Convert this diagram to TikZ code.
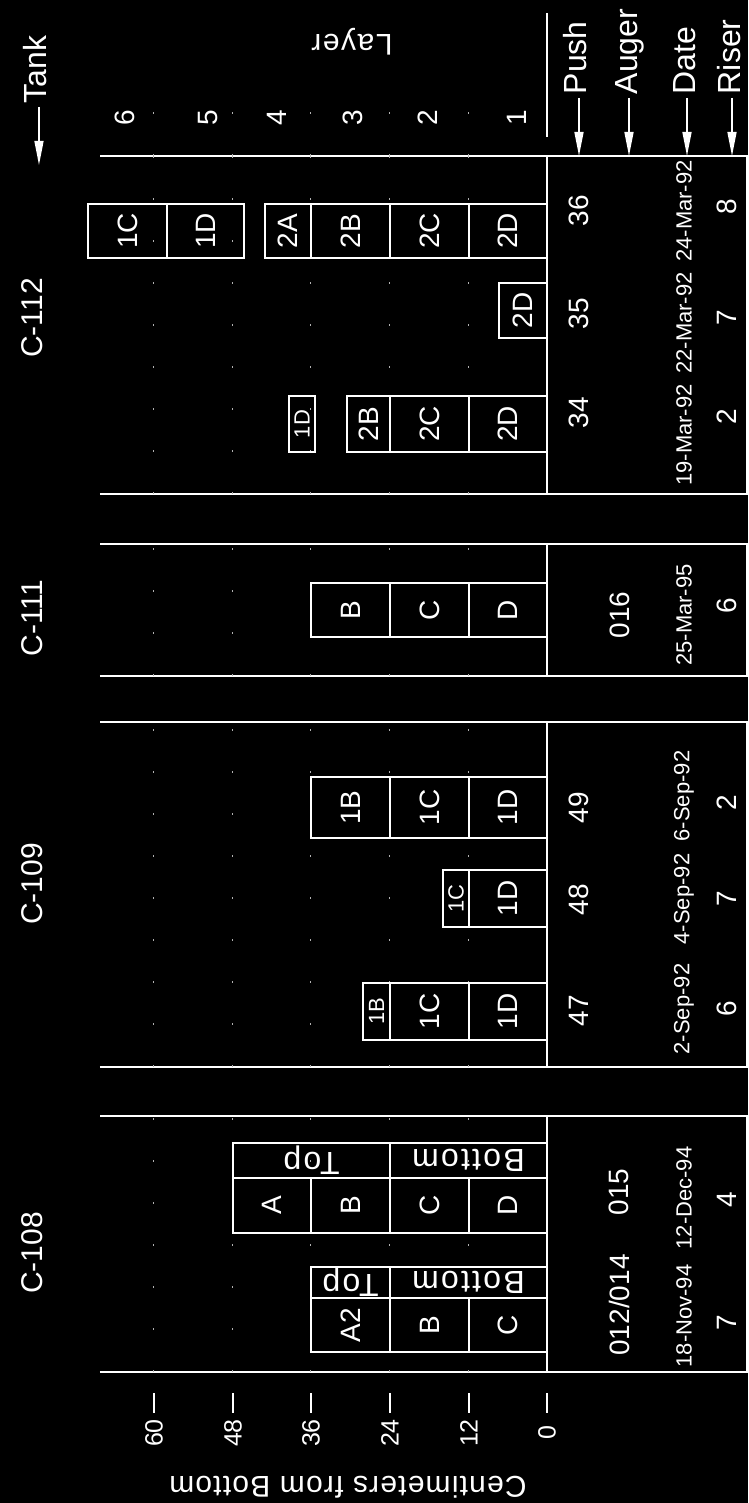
\documentclass[tikz,border=0pt]{standalone}
\usepackage{fontspec}
\setmainfont{Liberation Sans}
\usetikzlibrary{arrows.meta, positioning}

\newcommand{\fsz}[1]{\fontsize{#1}{#1}\selectfont}
% sample cell: name, x1, x2, y1, y2, text
\newcommand{\smpcell}[6]{%
  \node[smp, minimum width={#3-#2}, minimum height={#5-#4}] (#1) at ({(#2+#3)/2},{(#4+#5)/2}) {#6};}
\newcommand{\smpsmall}[6]{%
  \node[smp, font=\fsz{22}, minimum width={#3-#2}, minimum height={#5-#4}] (#1) at ({(#2+#3)/2},{(#4+#5)/2}) {#6};}
% rotated Top/Bottom cell (width and height swap)
\newcommand{\tagcell}[6]{%
  \node[tag, minimum width={#5-#4}, minimum height={#3-#2}] (#1) at ({(#2+#3)/2},{(#4+#5)/2}) {#6};}

\begin{document}
\begin{tikzpicture}[
  x=1pt, y=1pt, rotate=90, transform shape,
  white, line width=1.6pt,
  lbl/.style    = {inner sep=3pt, text=white},
  smp/.style    = {draw=white, line width=1.4pt, inner sep=0pt, font=\fsz{28}},
  tag/.style    = {smp, rotate=90, font=\fsz{32}\addfontfeatures{LetterSpace=7}},
  tick/.style   = {draw, line width=1.4pt},
  ax/.style     = {draw, -{Triangle[length=24pt, width=9pt]}, line width=1.4pt},
  gridln/.style = {line width=1pt, white!70!black, dash pattern=on 2pt off 40pt},
  num/.style    = {lbl, font=\fsz{28}},
  dat/.style    = {lbl, font=\fsz{22}},
]
\useasboundingbox (0,0) rectangle (1503,748);
\fill[black] (0,0) rectangle (1503,748);

% =============== panels: sides, baseline, bottom rule ===============
\foreach \l/\r in {131/387, 436/781, 827/959, 1009/1347} {
  \draw (\l,648) -- (\l,1) -- (\r,1) -- (\r,648);
  \draw (\l,201) -- (\r,201);
  \foreach \g in {279,358,437,515,594} \draw[gridln] (\l,\g) -- (\r,\g);
}
\foreach \g in {279,358,437,515,594} \draw[gridln] (1347,\g) -- (1405,\g);

% =============== depth axis ===============
\foreach \v/\yy in {0/201, 12/279, 24/358, 36/437, 48/515, 60/594} {
  \draw[tick] (90,\yy) -- (110,\yy);
  \node[lbl, font=\fsz{25}] (y\v) at (70,\yy) {\v};
}
\node[lbl, rotate=90, font=\fsz{30}\addfontfeatures{LetterSpace=4}] (yname) at (16,400)
  {Centimeters from Bottom};

% =============== tank titles ===============
\node[lbl, font=\fsz{30}] (t108) at (250,716) {C-108};
\node[lbl, font=\fsz{30}] (t109) at (619,716) {C-109};
\node[lbl, font=\fsz{30}] (t111) at (885,716) {C-111};
\node[lbl, font=\fsz{30}] (t112) at (1185,716) {C-112};

% =============== C-108 ===============
\smpcell{s108a2}{151}{205}{358}{437}{A2}
\smpcell{s108b1}{151}{205}{279}{358}{B}
\smpcell{s108c1}{151}{205}{201}{279}{C}
\tagcell{s108top1}{205}{236}{358}{437}{Top}
\tagcell{s108bot1}{205}{236}{201}{358}{Bottom}

\smpcell{s108a}{270}{325}{437}{515}{A}
\smpcell{s108b}{270}{325}{358}{437}{B}
\smpcell{s108c}{270}{325}{279}{358}{C}
\smpcell{s108d}{270}{325}{201}{279}{D}
\tagcell{s108top2}{325}{360}{358}{515}{Top}
\tagcell{s108bot2}{325}{360}{201}{358}{Bottom}

\node[num] (a108a) at (198,129) {012/014};
\node[num] (a108b) at (311,129) {015};
\node[dat] (d108a) at (187,64) {18-Nov-94};
\node[dat] (d108b) at (305,64) {12-Dec-94};
\node[num] (r108a) at (180,21) {7};
\node[num] (r108b) at (303,21) {4};

% =============== C-109 ===============
\smpcell{s47d}{463}{520}{201}{279}{1D}
\smpcell{s47c}{463}{520}{279}{358}{1C}
\smpsmall{s47b}{463}{520}{358}{385}{1B}
\smpcell{s48d}{576}{633}{201}{279}{1D}
\smpsmall{s48c}{576}{633}{279}{305}{1C}
\smpcell{s49d}{665}{726}{201}{279}{1D}
\smpcell{s49c}{665}{726}{279}{358}{1C}
\smpcell{s49b}{665}{726}{358}{437}{1B}

\node[num] (p47) at (492,169) {47};
\node[num] (p48) at (603,169) {48};
\node[num] (p49) at (695,169) {49};
\node[dat] (d47) at (494,64) {2-Sep-92};
\node[dat] (d48) at (604,64) {4-Sep-92};
\node[dat] (d49) at (707,64) {6-Sep-92};
\node[num] (r47) at (494,21) {6};
\node[num] (r48) at (604,21) {7};
\node[num] (r49) at (700,21) {2};

% =============== C-111 ===============
\smpcell{s111d}{866}{920}{201}{279}{D}
\smpcell{s111c}{866}{920}{279}{358}{C}
\smpcell{s111b}{866}{920}{358}{437}{B}

\node[num] (a111) at (888,128) {016};
\node[dat] (d111) at (888,64) {25-Mar-95};
\node[num] (r111) at (897,21) {6};

% =============== C-112 ===============
\smpcell{s34d}{1051}{1107}{201}{279}{2D}
\smpcell{s34c}{1051}{1107}{279}{358}{2C}
\smpcell{s34b}{1051}{1107}{358}{401}{2B}
\smpsmall{s34x}{1051}{1107}{433}{459}{1D}
\smpcell{s35d}{1165}{1220}{201}{249}{2D}
\smpcell{s36d}{1245}{1299}{201}{279}{2D}
\smpcell{s36c}{1245}{1299}{279}{358}{2C}
\smpcell{s36b}{1245}{1299}{358}{437}{2B}
\smpcell{s36a}{1245}{1299}{437}{483}{2A}
\smpcell{s36y}{1245}{1299}{504}{581}{1D}
\smpcell{s36x}{1245}{1299}{581}{660}{1C}

\node[num] (p34) at (1090,169) {34};
\node[num] (p35) at (1189,169) {35};
\node[num] (p36) at (1292,169) {36};
\node[dat] (d34) at (1068,64) {19-Mar-92};
\node[dat] (d35) at (1180,64) {22-Mar-92};
\node[dat] (d36) at (1292,64) {24-Mar-92};
\node[num] (r34) at (1086,21) {2};
\node[num] (r35) at (1185,21) {7};
\node[num] (r36) at (1296,21) {8};

% =============== layer scale and row keys ===============
\foreach \n/\yy in {6/623, 5/540, 4/471, 3/395, 2/320, 1/231}
  \node[num] (ly\n) at (1385,\yy) {\n};
\node[lbl, rotate=90, font=\fsz{30}\addfontfeatures{LetterSpace=5}] (layer) at (1461,396) {Layer};
\draw (1366,201) -- (1490,201);

\node[lbl, anchor=base west, font=\fsz{32}] (tank) at (1396,701) {Tank};
\coordinate (tank-in) at (1338,709);
\draw[ax] ([yshift=8pt]tank.base west) -- (tank-in);

\foreach \nm/\t/\b in {push/Push/161, auger/Auger/111, date/Date/53, riser/Riser/8} {
  \node[lbl, anchor=base west, font=\fsz{32}] (\nm) at (1405,\b) {\t};
  \coordinate (\nm-in) at (1347,\b+8);
  \draw[ax] ([yshift=8pt]\nm.base west) -- (\nm-in);
}

\end{tikzpicture}
\end{document}
